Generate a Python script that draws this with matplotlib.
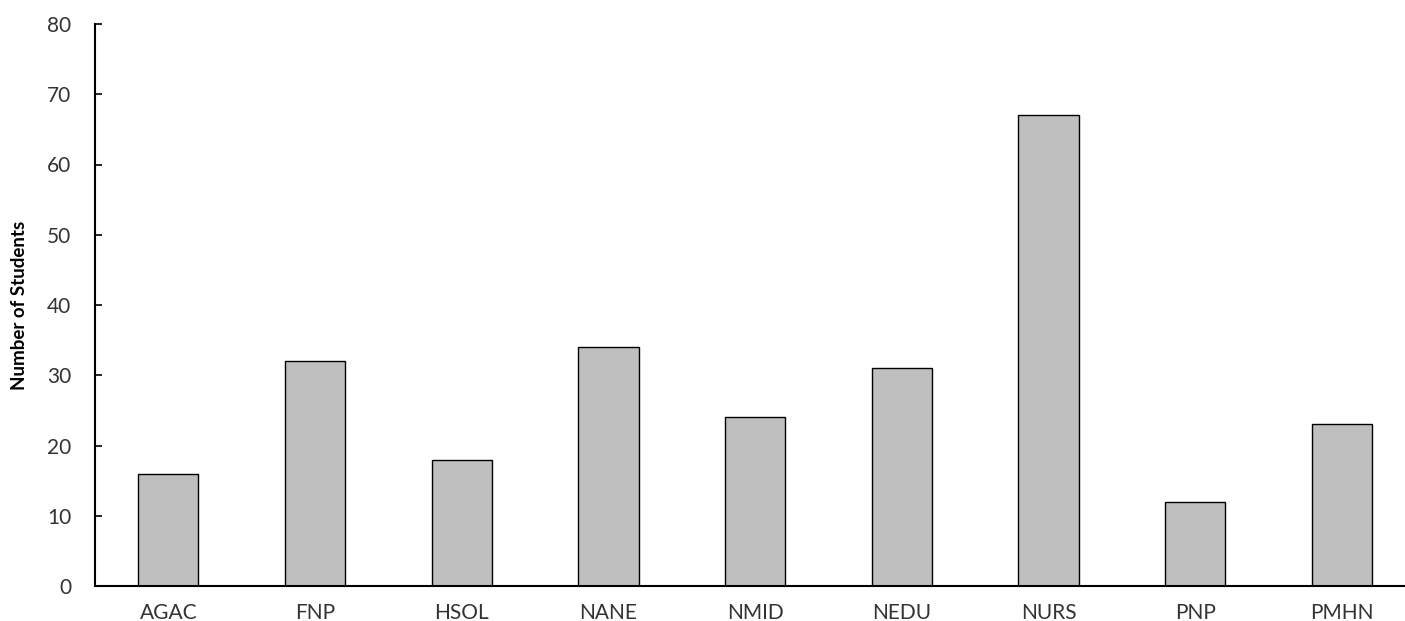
import matplotlib
matplotlib.use('Agg')
import matplotlib.pyplot as plt

programs = ['AGAC', 'FNP', 'HSOL', 'NANE', 'NMID', 'NEDU', 'NURS', 'PNP', 'PMHN']
students = [16, 32, 18, 34, 24, 31, 67, 12, 23]

plt.rcParams['font.family'] = ['Lato', 'DejaVu Sans']

fig = plt.figure(figsize=(14.05, 6.21), dpi=100)
ax = fig.add_axes([95 / 1405, 35 / 621, 1310 / 1405, 562 / 621])

ax.bar(range(len(programs)), students, width=0.41, color='#bfbfbf',
       edgecolor='black', linewidth=1)

ax.set_xlim(-0.5, 8.43)
ax.set_ylim(0, 80)
ax.set_yticks(range(0, 81, 10))
ax.set_xticks(range(len(programs)))
ax.set_xticklabels(programs)

ax.spines['top'].set_visible(False)
ax.spines['right'].set_visible(False)
ax.spines['left'].set_linewidth(1.5)
ax.spines['bottom'].set_linewidth(1.5)

ax.tick_params(axis='y', direction='in', length=5, width=1.2, labelsize=15,
               pad=17, colors='#333333')
ax.tick_params(axis='y', color='black')
ax.tick_params(axis='x', length=0, labelsize=15, pad=12, labelcolor='#333333')

ax.set_ylabel('Number of Students', fontsize=13.5, fontweight='bold',
              labelpad=14)

fig.savefig('out.png', dpi=100)
